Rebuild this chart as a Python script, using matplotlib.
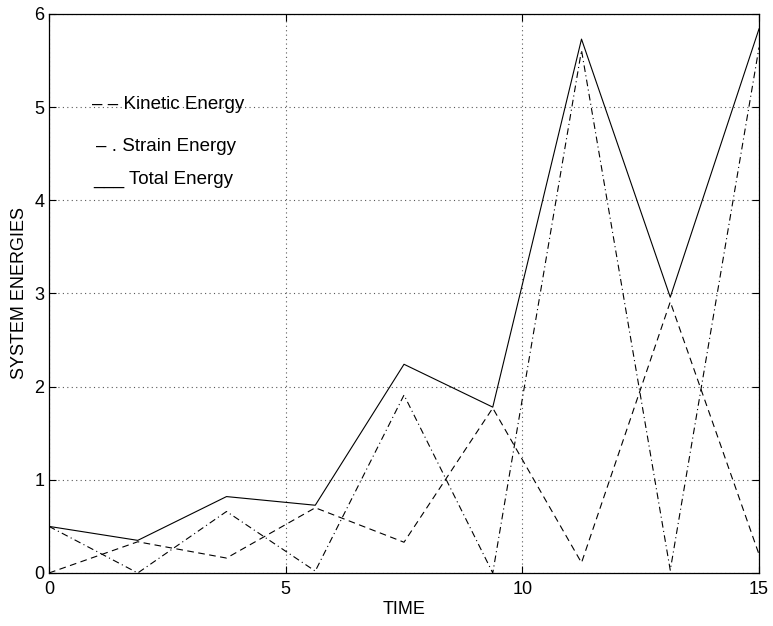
import matplotlib
matplotlib.use("Agg")
import matplotlib.pyplot as plt
import numpy as np

plt.rcParams['font.family'] = ['Liberation Sans', 'DejaVu Sans']

# time samples and energies
time = [0, 1.875, 3.75, 5.625, 7.5, 9.375, 11.25, 13.125, 15]
kinetic = [0.0, 0.335, 0.16, 0.70, 0.33, 1.77, 0.11, 2.91, 0.20]
strain = [0.5, 0.0, 0.66, 0.02, 1.91, 0.0, 5.61, 0.03, 5.64]
total = [0.5, 0.35, 0.82, 0.727, 2.24, 1.78, 5.73, 2.96, 5.84]

labels = ['\u2013 \u2013 Kinetic Energy', '\u2013 . Strain Energy', '___ Total Energy']
label_x = [0.91, 0.99, 0.93]
label_y = [5.03, 4.58, 4.22]

fig = plt.figure(figsize=(7.73, 6.26), dpi=100)
ax = fig.add_axes([0.0634, 0.0847, 0.9185, 0.8930])

ax.plot(time, kinetic, color='k', lw=0.8, linestyle=(0, (6, 4)))
ax.plot(time, strain, color='k', lw=0.8, linestyle=(0, (6, 3, 1, 3)))
ax.plot(time, total, color='k', lw=0.8, linestyle='-')

for lab, x, y in zip(labels, label_x, label_y):
    ax.text(x, y, lab, fontsize=13.5, va='center', ha='left')

ax.set_xlim(0, 15)
ax.set_ylim(0, 6)
ax.set_xticks([0, 5, 10, 15])
ax.set_yticks([0, 1, 2, 3, 4, 5, 6])
ax.grid(True, color='0.35', linestyle=(0, (1, 3)), linewidth=0.8)
ax.tick_params(direction='in', top=True, right=True, length=5, width=0.8,
               labelsize=13)
ax.tick_params(axis='x', pad=6)
ax.tick_params(axis='y', pad=3.5)
for s in ax.spines.values():
    s.set_linewidth(0.9)

ax.set_xlabel('TIME', fontsize=13, labelpad=2)
ax.set_ylabel('SYSTEM ENERGIES', fontsize=13, labelpad=4)

fig.savefig('out.png', dpi=100)
